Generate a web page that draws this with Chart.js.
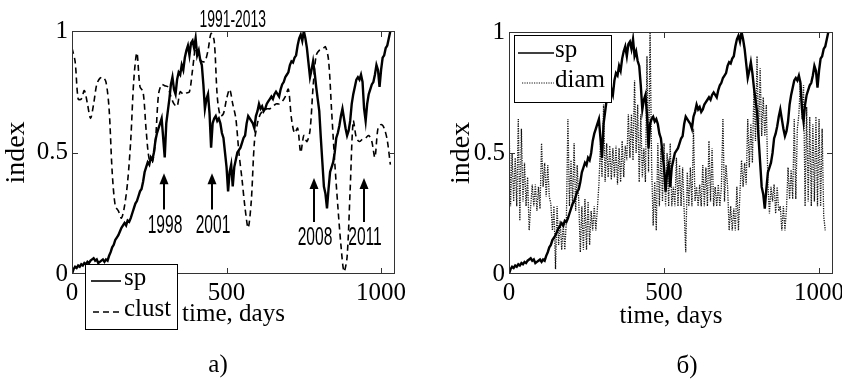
<!DOCTYPE html>
<html><head><meta charset="utf-8">
<script src="https://cdn.jsdelivr.net/npm/chart.js@4.4.0/dist/chart.umd.min.js"></script>
<style>
html,body{margin:0;padding:0;background:#fff;}
#wrap{position:relative;width:842px;height:379px;overflow:hidden;background:#fff;}
canvas{position:absolute;top:0;}
#c1{left:0;} #c2{left:421px;}
</style></head><body>
<div id="wrap"><canvas id="c1" width="421" height="379"></canvas><canvas id="c2" width="421" height="379"></canvas></div>
<script>
// ---------- data ----------
const spStep = 5;      // days between samples
const spValues = [0.00,0.02,0.03,0.025,0.035,0.03,0.04,0.035,0.045,0.04,
0.05,0.045,0.055,0.06,0.065,0.055,0.06,0.045,0.05,0.055,
0.06,0.05,0.06,0.055,0.075,0.09,0.11,0.12,0.14,0.15,
0.16,0.175,0.19,0.2,0.21,0.2,0.22,0.215,0.23,0.25,
0.27,0.29,0.3,0.32,0.34,0.35,0.38,0.42,0.44,0.46,
0.45,0.48,0.47,0.50,0.55,0.58,0.60,0.62,0.64,0.56,
0.48,0.62,0.67,0.72,0.78,0.81,0.76,0.74,0.80,0.83,
0.82,0.86,0.84,0.89,0.92,0.94,0.90,0.95,0.96,0.93,
0.97,0.90,0.92,0.88,0.86,0.78,0.68,0.72,0.74,0.66,
0.52,0.62,0.64,0.65,0.63,0.64,0.62,0.58,0.56,0.50,
0.44,0.34,0.42,0.45,0.36,0.44,0.47,0.50,0.51,0.52,
0.54,0.56,0.57,0.62,0.65,0.64,0.63,0.62,0.60,0.65,
0.67,0.70,0.68,0.69,0.67,0.68,0.70,0.71,0.72,0.73,
0.72,0.74,0.75,0.74,0.73,0.76,0.78,0.79,0.81,0.82,
0.83,0.86,0.875,0.87,0.89,0.90,0.94,0.97,0.985,0.96,
1.0,0.97,0.93,0.87,0.81,0.84,0.875,0.83,0.77,0.72,
0.67,0.56,0.46,0.36,0.33,0.27,0.35,0.42,0.44,0.46,
0.50,0.56,0.58,0.61,0.65,0.68,0.64,0.60,0.57,0.59,
0.63,0.70,0.74,0.77,0.80,0.81,0.80,0.82,0.79,0.68,
0.63,0.70,0.74,0.76,0.78,0.79,0.82,0.86,0.84,0.77,
0.84,0.89,0.90,0.93,0.94,0.97,1.0];

const clustStep = 10;
const clustValues = [0.93,0.875,0.72,0.72,0.755,0.70,0.64,0.70,0.78,0.805,
0.81,0.79,0.68,0.42,0.28,0.26,0.23,0.28,0.38,0.55,
0.80,0.91,0.77,0.75,0.59,0.47,0.46,0.55,0.74,0.78,
0.775,0.77,0.73,0.70,0.69,0.75,0.74,0.745,0.75,0.84,
0.93,0.89,0.875,0.875,0.92,0.99,0.96,0.73,0.65,0.66,
0.72,0.76,0.70,0.64,0.50,0.39,0.27,0.19,0.30,0.54,
0.62,0.66,0.67,0.68,0.68,0.69,0.70,0.70,0.71,0.73,
0.76,0.64,0.58,0.60,0.50,0.57,0.545,0.59,0.77,0.90,
0.92,0.925,0.935,0.88,0.67,0.46,0.28,0.12,0.01,0.07,
0.35,0.63,0.56,0.545,0.555,0.56,0.57,0.545,0.48,0.60,
0.615,0.60,0.55,0.45];

const diamStep = 5;
const diamValues = [0.64,0.28,0.50,0.30,0.48,0.28,0.64,0.22,0.60,0.30,
0.46,0.28,0.40,0.18,0.28,0.37,0.28,0.37,0.26,0.36,
0.27,0.54,0.36,0.46,0.32,0.45,0.32,0.29,0.18,0.28,
0.02,0.28,0.12,0.22,0.10,0.21,0.10,0.22,0.64,0.28,
0.47,0.28,0.54,0.26,0.45,0.30,0.09,0.28,0.10,0.31,
0.10,0.30,0.12,0.26,0.18,0.28,0.18,0.27,0.37,0.54,
0.40,0.70,0.38,0.54,0.40,0.53,0.39,0.52,0.40,0.53,
0.37,0.52,0.38,0.55,0.40,0.53,0.47,0.66,0.48,0.66,
0.47,0.80,0.50,0.70,0.38,0.66,0.40,0.52,0.38,0.90,
0.42,1.00,0.45,0.20,0.38,0.18,0.54,0.28,0.52,0.30,
0.54,0.28,0.50,0.28,0.54,0.28,0.36,0.28,0.48,0.28,
0.45,0.28,0.44,0.26,0.09,0.42,0.28,0.44,0.28,0.60,
0.30,0.36,0.28,0.37,0.28,0.45,0.28,0.44,0.28,0.55,
0.30,0.52,0.28,0.36,0.28,0.37,0.28,0.36,0.64,0.30,
0.45,0.36,0.18,0.28,0.18,0.27,0.18,0.36,0.18,0.34,
0.47,0.36,0.46,0.37,0.64,0.44,0.62,0.46,0.77,0.55,
0.90,0.55,0.85,0.57,0.73,0.57,0.70,0.37,0.25,0.36,
0.30,0.37,0.25,0.36,0.26,0.28,0.18,0.28,0.18,0.27,
0.44,0.31,0.43,0.31,0.64,0.31,0.60,0.66,0.80,0.64,
0.78,0.28,0.69,0.30,0.65,0.28,0.62,0.30,0.65,0.28,
0.64,0.28,0.60,0.24,0.18];

const xTicks = [0, 500, 1000];
const yTicks = [0, 0.5, 1];
const xMax = 1045;
const annYears = ['1998', '2001', '2008', '2011'];
const annDays = [298, 453, 783, 945];
const periodLabel = '1991-2013';

// ---------- rendering ----------
const SERIF = '"Liberation Serif", "Times New Roman", serif';
const pts = (vals, step) => vals.map((v, i) => ({x: i * step, y: v}));

function scaleOpts(cfg) {
  return {
    x: {
      type: 'linear', min: 0, max: xMax,
      afterBuildTicks: s => { s.ticks = xTicks.map(v => ({value: v})); },
      afterFit: s => { s.height = cfg.xh; s.paddingLeft = 0; s.paddingRight = 0; },
      grid: {display: false, drawTicks: false},
      border: {display: false},
      ticks: {font: {family: SERIF, size: 25}, color: '#000', padding: cfg.xpad, maxRotation: 0, autoSkip: false, callback: v => String(v)},
      title: {display: true, text: 'time, days', font: {family: SERIF, size: 25}, color: '#000', padding: {top: 0, bottom: cfg.xtb}}
    },
    y: {
      type: 'linear', min: 0, max: 1,
      afterBuildTicks: s => { s.ticks = yTicks.map(v => ({value: v})); },
      afterFit: s => { s.width = cfg.yw; s.paddingTop = 0; s.paddingBottom = 0; },
      grid: {display: false, drawTicks: false},
      border: {display: false},
      ticks: {font: {family: SERIF, size: 25}, color: '#000', padding: 4, callback: v => String(v)},
      title: {display: true, text: 'index', font: {family: SERIF, size: 28}, color: '#000', padding: {top: cfg.ytt, bottom: 0}}
    }
  };
}

const framePlugin = {
  id: 'frame',
  afterDatasetsDraw(chart) {
    const {ctx, chartArea: a} = chart;
    const x = chart.scales.x, y = chart.scales.y;
    ctx.save();
    ctx.strokeStyle = '#333'; ctx.lineWidth = 1; ctx.setLineDash([]);
    ctx.strokeRect(Math.round(a.left) + 0.5, Math.round(a.top) + 0.5, Math.round(a.right - a.left) - 1, Math.round(a.bottom - a.top) - 1);
    ctx.beginPath();
    x.ticks.forEach(t => {
      const px = Math.round(x.getPixelForValue(t.value)) + 0.5;
      if (px <= a.left + 2 || px >= a.right - 2) return;
      ctx.moveTo(px, a.bottom); ctx.lineTo(px, a.bottom - 6);
      ctx.moveTo(px, a.top); ctx.lineTo(px, a.top + 6);
    });
    y.ticks.forEach(t => {
      const py = Math.round(y.getPixelForValue(t.value)) + 0.5;
      if (py <= a.top + 2 || py >= a.bottom - 2) return;
      ctx.moveTo(a.left, py); ctx.lineTo(a.left + 6, py);
      ctx.moveTo(a.right, py); ctx.lineTo(a.right - 6, py);
    });
    ctx.stroke();
    ctx.restore();
  }
};

const boxLegend = {
  id: 'boxLegend',
  afterDraw(chart, args, o) {
    const ctx = chart.ctx;
    ctx.save();
    ctx.fillStyle = '#fff'; ctx.fillRect(o.x, o.y, o.w, o.h);
    ctx.strokeStyle = '#000'; ctx.lineWidth = 1; ctx.setLineDash([]);
    ctx.strokeRect(o.x + 0.5, o.y + 0.5, o.w, o.h);
    chart.data.datasets.forEach((ds, i) => {
      const it = o.items[i];
      ctx.beginPath();
      ctx.setLineDash(ds.borderDash || []);
      ctx.lineWidth = it.lw; ctx.strokeStyle = ds.borderColor;
      ctx.moveTo(it.x0, it.y); ctx.lineTo(it.x1, it.y); ctx.stroke();
      ctx.setLineDash([]);
      ctx.fillStyle = '#000'; ctx.font = '25px ' + SERIF;
      ctx.textBaseline = 'middle'; ctx.textAlign = 'left';
      ctx.fillText(ds.label, it.tx, it.y - 3);
    });
    ctx.restore();
  }
};

function condText(ctx, s, cx, cy, size, sx) {
  ctx.save();
  ctx.translate(cx, cy); ctx.scale(sx, 1);
  ctx.font = size + 'px "Liberation Sans", Arial, sans-serif';
  ctx.textAlign = 'center'; ctx.textBaseline = 'middle';
  ctx.fillStyle = '#000';
  ctx.fillText(s, 0, 0);
  ctx.restore();
}

const notesPlugin = {
  id: 'notes',
  afterDraw(chart, args, o) {
    const ctx = chart.ctx;
    ctx.save();
    ctx.fillStyle = '#000';
    ctx.font = '25px ' + SERIF;
    ctx.textAlign = 'center'; ctx.textBaseline = 'middle';
    ctx.fillText(o.caption, o.capX, o.capY);
    if (o.arrows) {
      const x = chart.scales.x, y = chart.scales.y;
      condText(ctx, periodLabel, x.getPixelForValue(520), chart.chartArea.top - 11, 24, 0.58);
      const levels = [{head: 0.415, tail: 0.265, lab: 0.198}, {head: 0.415, tail: 0.265, lab: 0.198},
                      {head: 0.395, tail: 0.214, lab: 0.148}, {head: 0.395, tail: 0.214, lab: 0.148}];
      annDays.forEach((d, i) => {
        const lv = levels[i];
        const px = Math.round(x.getPixelForValue(d));
        const yh = y.getPixelForValue(lv.head), yt = y.getPixelForValue(lv.tail);
        ctx.strokeStyle = '#000'; ctx.lineWidth = 2; ctx.setLineDash([]);
        ctx.beginPath(); ctx.moveTo(px, yt); ctx.lineTo(px, yh + 8); ctx.stroke();
        ctx.beginPath(); ctx.moveTo(px, yh); ctx.lineTo(px - 4.5, yh + 11); ctx.lineTo(px + 4.5, yh + 11); ctx.closePath(); ctx.fill();
        condText(ctx, annYears[i], px + 1, y.getPixelForValue(lv.lab), 26, 0.6);
      });
    }
    ctx.restore();
  }
};

Chart.defaults.font.family = SERIF;

new Chart(document.getElementById('c1'), {
  type: 'line',
  data: {datasets: [
    {label: 'sp', data: pts(spValues, spStep), borderColor: '#000', borderWidth: 2.4, pointRadius: 0, tension: 0, fill: false},
    {label: 'clust', data: pts(clustValues, clustStep), borderColor: '#000', borderWidth: 1.6, borderDash: [6, 4], pointRadius: 0, tension: 0.3, fill: false}
  ]},
  options: {
    responsive: false, animation: false, devicePixelRatio: 1,
    layout: {padding: {top: 31, right: 26, bottom: 0, left: 0}},
    scales: scaleOpts({xh: 105, xpad: 4, xtb: 50, yw: 72, ytt: 0}),
    plugins: {
      legend: {display: false}, tooltip: {enabled: false},
      boxLegend: {x: 85, y: 264, w: 92, h: 65, items: [
        {x0: 91, x1: 121, y: 281, tx: 124, lw: 1.6},
        {x0: 93, x1: 122, y: 312, tx: 124, lw: 1.4}]},
      notes: {caption: 'а)', capX: 218, capY: 365, arrows: true}
    }
  },
  plugins: [framePlugin, notesPlugin, boxLegend]
});

new Chart(document.getElementById('c2'), {
  type: 'line',
  data: {datasets: [
    {label: 'sp', data: pts(spValues, spStep), borderColor: '#000', borderWidth: 2.4, pointRadius: 0, tension: 0, fill: false},
    {label: 'diam', data: pts(diamValues, diamStep), borderColor: '#111', borderWidth: 1.3, borderDash: [1.2, 1.2], pointRadius: 0, tension: 0, fill: false}
  ]},
  options: {
    responsive: false, animation: false, devicePixelRatio: 1,
    layout: {padding: {top: 32, right: 9, bottom: 0, left: 0}},
    scales: scaleOpts({xh: 105, xpad: 4, xtb: 48, yw: 88, ytt: 24}),
    plugins: {
      legend: {display: false}, tooltip: {enabled: false},
      boxLegend: {x: 93, y: 35, w: 97, h: 67, items: [
        {x0: 97, x1: 133, y: 53, tx: 134, lw: 1.6},
        {x0: 101, x1: 133, y: 83, tx: 134, lw: 1}]},
      notes: {caption: 'б)', capX: 266, capY: 366, arrows: false}
    }
  },
  plugins: [framePlugin, notesPlugin, boxLegend]
});
</script>
</body></html>
